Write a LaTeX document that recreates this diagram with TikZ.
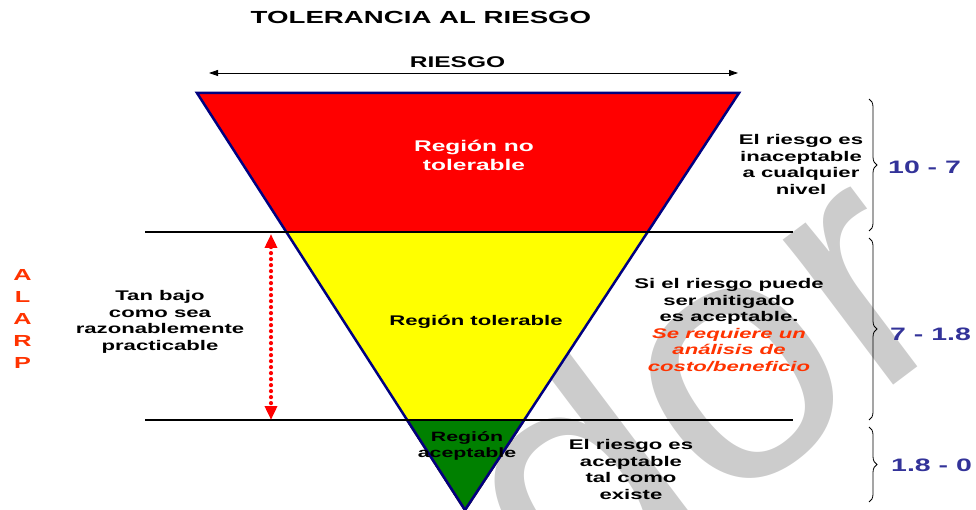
\documentclass[tikz,border=0pt]{standalone}
\usepackage{fontspec}
\setmainfont{Liberation Sans}
\newfontfamily\widefont[FakeStretch=1.58]{Liberation Sans}
\newfontfamily\wmfont{Liberation Sans}
\usetikzlibrary{arrows.meta,decorations.pathreplacing,calc}
\definecolor{navyb}{RGB}{0,0,128}
\definecolor{numblue}{RGB}{51,51,153}
\definecolor{alarpc}{RGB}{255,51,0}
\definecolor{wmgray}{RGB}{204,204,204}
\definecolor{brownb}{RGB}{102,51,0}
\definecolor{greenr}{RGB}{0,128,0}
\definecolor{redr}{RGB}{255,0,0}
\definecolor{yellowr}{RGB}{255,255,0}
\tikzset{
  lbl/.style={font=\widefont\bfseries\fontsize{14}{16.5}\selectfont, align=center, inner sep=0pt},
  reglbl/.style={font=\widefont\bfseries\fontsize{15.5}{19}\selectfont, align=center, inner sep=0pt},
  ttl/.style={font=\widefont\bfseries\fontsize{17.5}{20}\selectfont, inner sep=0pt},
  numlbl/.style={font=\widefont\bfseries\fontsize{18}{20}\selectfont, text=numblue, inner sep=0pt, anchor=base west},
  alarpst/.style={font=\widefont\bfseries\fontsize{16}{22}\selectfont, text=alarpc, align=center, inner sep=0pt},
  wm/.style={font=\wmfont\fontsize{345}{345}\selectfont, text=wmgray, inner sep=0pt},
  hline/.style={line width=2.5pt, black},
  bracest/.style={decorate, decoration={brace, amplitude=8pt}, line width=0.8pt},
}
\begin{document}
\begin{tikzpicture}[x=1pt,y=-1pt]
\useasboundingbox (0,0) rectangle (976,510);
% watermark
\node[wm, rotate=37, anchor=base east] (wmark) at (966,330) {dor};
% triangle geometry
\coordinate (TL) at (197,93);
\coordinate (TR) at (739,93);
\coordinate (AP) at (465,510);
\coordinate (L1) at ($(TL)!0.3333!(AP)$);
\coordinate (R1) at ($(TR)!0.3333!(AP)$);
\coordinate (L2) at ($(TL)!0.7842!(AP)$);
\coordinate (R2) at ($(TR)!0.7842!(AP)$);
\fill[redr] (TL) -- (TR) -- (R1) -- (L1) -- cycle;
\fill[yellowr] (L1) -- (R1) -- (R2) -- (L2) -- cycle;
\fill[greenr] (L2) -- (R2) -- (AP) -- cycle;
\draw[brownb, line width=2.5pt] (L2) -- (AP) -- (R2);
\draw[navyb, line width=2.5pt] (TL) -- (TR) -- (AP) -- cycle;
% horizontal lines
\coordinate (h1a) at (145,232);
\coordinate (h1b) at (793,232);
\coordinate (h2a) at (145,420);
\coordinate (h2b) at (793,420);
\draw[hline] (h1a) -- (h1b);
\draw[hline] (h2a) -- (h2b);
% RIESGO arrow
\coordinate (ra) at (209,73);
\coordinate (rb) at (738,73);
\draw[line width=0.8pt, {Triangle[length=9pt,width=6pt]}-{Triangle[length=9pt,width=6pt]}] (ra) -- (rb);
% ALARP dotted arrow
\coordinate (da) at (271,234);
\coordinate (db) at (271,420);
\draw[redr, line width=4.2pt, line cap=round, dash pattern=on 0pt off 6pt, {Triangle[length=14pt,width=12pt]}-{Triangle[length=14pt,width=12pt]}] (da) -- (db);
% braces
\coordinate (b1a) at (869,99);
\coordinate (b1b) at (869,231);
\coordinate (b2a) at (869,238);
\coordinate (b2b) at (869,420);
\coordinate (b3a) at (869,427);
\coordinate (b3b) at (869,502);
\draw[bracest] (b1a) -- (b1b);
\draw[bracest] (b2a) -- (b2b);
\draw[bracest] (b3a) -- (b3b);
% texts
\node[ttl, anchor=base] (title) at (421,23.3) {TOLERANCIA AL RIESGO};
\node[ttl, anchor=base, font=\widefont\bfseries\fontsize{15.5}{18}\selectfont] (riesgo) at (457.5,67.7) {RIESGO};
\node[reglbl, text=white] (rnt) at (474,155.5) {Región no\\tolerable};
\node[lbl, anchor=base] (rt) at (476,325.7) {Región tolerable};
\node[lbl, font=\widefont\bfseries\fontsize{13.5}{15.3}\selectfont] (ra2) at (467,445.8) {Región\\aceptable};
\node[alarpst] (alarp) at (22.5,319.3) {A\\L\\A\\R\\P};
\node[lbl] (tanbajo) at (160,322) {Tan bajo\\como sea\\razonablemente\\practicable};
\node[lbl] (inac) at (801,164.5) {El riesgo es\\inaceptable\\a cualquier\\nivel};
\node[lbl] (mitig) at (729,325) {Si el riesgo puede\\ser mitigado\\es aceptable.\\{\color{alarpc}\itshape Se requiere un}\\{\color{alarpc}\itshape análisis de}\\{\color{alarpc}\itshape costo/beneficio}};
\node[lbl] (acep) at (631,469.5) {El riesgo es\\aceptable\\tal como\\existe};
\node[numlbl] (n1) at (888,173.3) {10 - 7};
\node[numlbl] (n2) at (890,340) {7 - 1.8};
\node[numlbl] (n3) at (891,471.7) {1.8 - 0};
\end{tikzpicture}
\end{document}
